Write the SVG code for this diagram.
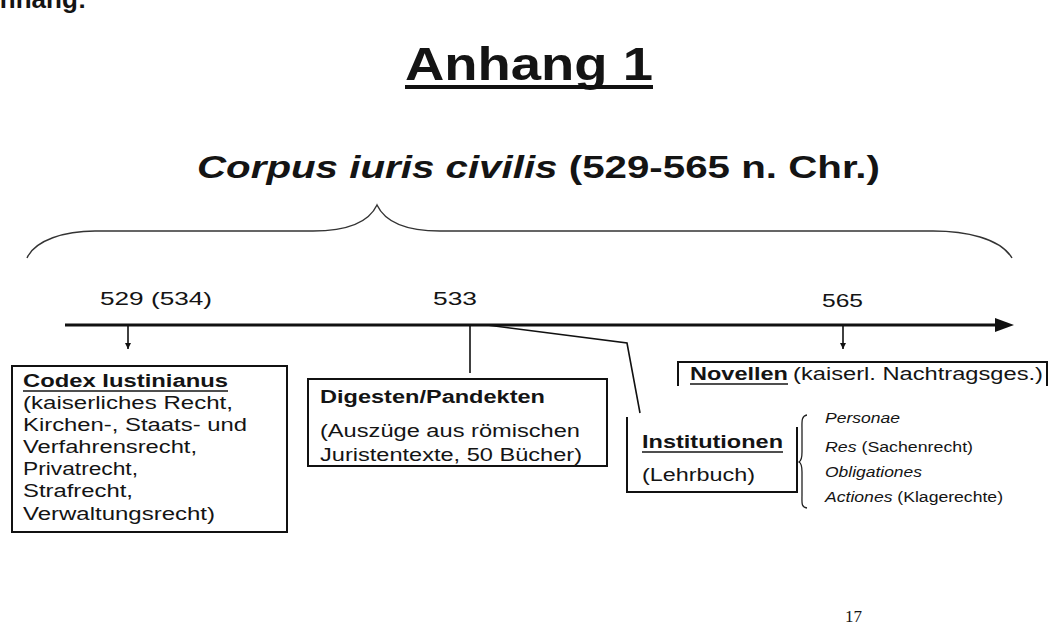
<svg xmlns="http://www.w3.org/2000/svg" width="1049" height="639" viewBox="0 0 1049 639">
<style>
  text { font-family: "Liberation Sans", Arial, sans-serif; fill: #141414; }
  .b { font-weight: bold; }
  .i { font-style: italic; }
  .box { font-size: 17.5px; }
  .item { font-size: 14px; }
  .yr { font-size: 19px; }
  .ln { stroke: #111; fill: none; stroke-width: 1.6; }
  .frame { stroke: #111; fill: none; stroke-width: 2; }
  .ul { stroke: #141414; stroke-width: 1.6; }
</style>
<defs>
  <marker id="small" viewBox="0 0 6 6" refX="6" refY="3" markerWidth="6" markerHeight="6" orient="auto" markerUnits="userSpaceOnUse">
    <path d="M0,0 L6,3 L0,6 Z" fill="#111"/>
  </marker>
</defs>
<rect width="1049" height="639" fill="#ffffff"/>

<text class="b" x="-19" y="8" font-size="26">Anhang:</text>

<g id="title">
  <text class="b" x="405" y="80" font-size="46" textLength="248" lengthAdjust="spacingAndGlyphs">Anhang 1</text>
  <line x1="405" y1="87" x2="653" y2="87" stroke="#111" stroke-width="4"/>
</g>

<g id="subtitle">
  <text class="b" x="197" y="178" font-size="32" textLength="683" lengthAdjust="spacingAndGlyphs"><tspan class="i">Corpus iuris civilis</tspan> (529-565 n. Chr.)</text>
</g>

<g id="brace">
  <path d="M27,258 C35,240 65,231 95,231 L313,231 C345,231 368,224 377,205 C386,224 409,231 440,231 L933,231 C965,231 1000,238 1012,258" stroke="#333" stroke-width="1.4" fill="none"/>
</g>

<g id="timeline">
  <line x1="65" y1="325" x2="998" y2="325" stroke="#111" stroke-width="3"/>
  <polygon points="995,318 1014,325 995,332" fill="#111"/>
  <text class="yr" x="100" y="305" textLength="112" lengthAdjust="spacingAndGlyphs">529 (534)</text>
  <text class="yr" x="433" y="305" textLength="44" lengthAdjust="spacingAndGlyphs">533</text>
  <text class="yr" x="822" y="307" textLength="41" lengthAdjust="spacingAndGlyphs">565</text>
</g>

<g id="connectors">
  <line class="ln" x1="128" y1="326" x2="128" y2="349" marker-end="url(#small)"/>
  <line class="ln" x1="843" y1="326" x2="843" y2="349" marker-end="url(#small)"/>
  <line class="ln" x1="470" y1="326" x2="470" y2="373"/>
  <polyline class="ln" points="487,325 627,343 640,413"/>
</g>

<g id="codex">
  <rect x="12" y="366" width="275" height="166" class="frame"/>
  <text class="box b" x="23" y="387" textLength="205" lengthAdjust="spacingAndGlyphs">Codex Iustinianus</text>
  <line class="ul" x1="23" y1="391" x2="228" y2="391"/>
  <text class="box" x="23" y="409" textLength="210" lengthAdjust="spacingAndGlyphs">(kaiserliches Recht,</text>
  <text class="box" x="23" y="431" textLength="224" lengthAdjust="spacingAndGlyphs">Kirchen-, Staats- und</text>
  <text class="box" x="23" y="453" textLength="174" lengthAdjust="spacingAndGlyphs">Verfahrensrecht,</text>
  <text class="box" x="23" y="475" textLength="115" lengthAdjust="spacingAndGlyphs">Privatrecht,</text>
  <text class="box" x="23" y="497" textLength="110" lengthAdjust="spacingAndGlyphs">Strafrecht,</text>
  <text class="box" x="23" y="520" textLength="192" lengthAdjust="spacingAndGlyphs">Verwaltungsrecht)</text>
</g>

<g id="digesten">
  <rect x="308" y="379" width="299" height="87" class="frame"/>
  <text class="box b" x="320" y="403" textLength="225" lengthAdjust="spacingAndGlyphs">Digesten/Pandekten</text>
  <text class="box" x="320" y="437" textLength="260" lengthAdjust="spacingAndGlyphs">(Auszüge aus römischen</text>
  <text class="box" x="320" y="461" textLength="262" lengthAdjust="spacingAndGlyphs">Juristentexte, 50 Bücher)</text>
</g>

<g id="institutionen">
  <path d="M627,417 V492 H797 V427" class="frame"/>
  <text class="box b" x="642" y="448" textLength="141" lengthAdjust="spacingAndGlyphs">Institutionen</text>
  <line class="ul" x1="642" y1="452" x2="783" y2="452"/>
  <text class="box" x="642" y="481" textLength="113" lengthAdjust="spacingAndGlyphs">(Lehrbuch)</text>
</g>

<g id="institutionen-parts">
  <path d="M807,415 C801,416 802,422 802,430 L802,452 C802,458 801,461 799,462 C801,463 802,466 802,472 L802,495 C802,503 801,507 807,508" stroke="#222" stroke-width="1.3" fill="none"/>
  <text class="item i" x="825" y="423" textLength="75" lengthAdjust="spacingAndGlyphs">Personae</text>
  <text class="item" x="825" y="452" textLength="148" lengthAdjust="spacingAndGlyphs"><tspan class="i">Res</tspan> (Sachenrecht)</text>
  <text class="item i" x="825" y="477" textLength="97" lengthAdjust="spacingAndGlyphs">Obligationes</text>
  <text class="item" x="825" y="502" textLength="178" lengthAdjust="spacingAndGlyphs"><tspan class="i">Actiones</tspan> (Klagerechte)</text>
</g>

<g id="novellen">
  <path d="M678,386 V362 H1047 V386" class="frame"/>
  <text class="box b" x="690" y="380" textLength="98" lengthAdjust="spacingAndGlyphs">Novellen</text>
  <line class="ul" x1="690" y1="384" x2="788" y2="384"/>
  <text class="box" x="793" y="380" textLength="250" lengthAdjust="spacingAndGlyphs">(kaiserl. Nachtragsges.)</text>
</g>

<text x="845" y="622" font-size="17" style="font-family:'Liberation Serif',serif">17</text>
</svg>
